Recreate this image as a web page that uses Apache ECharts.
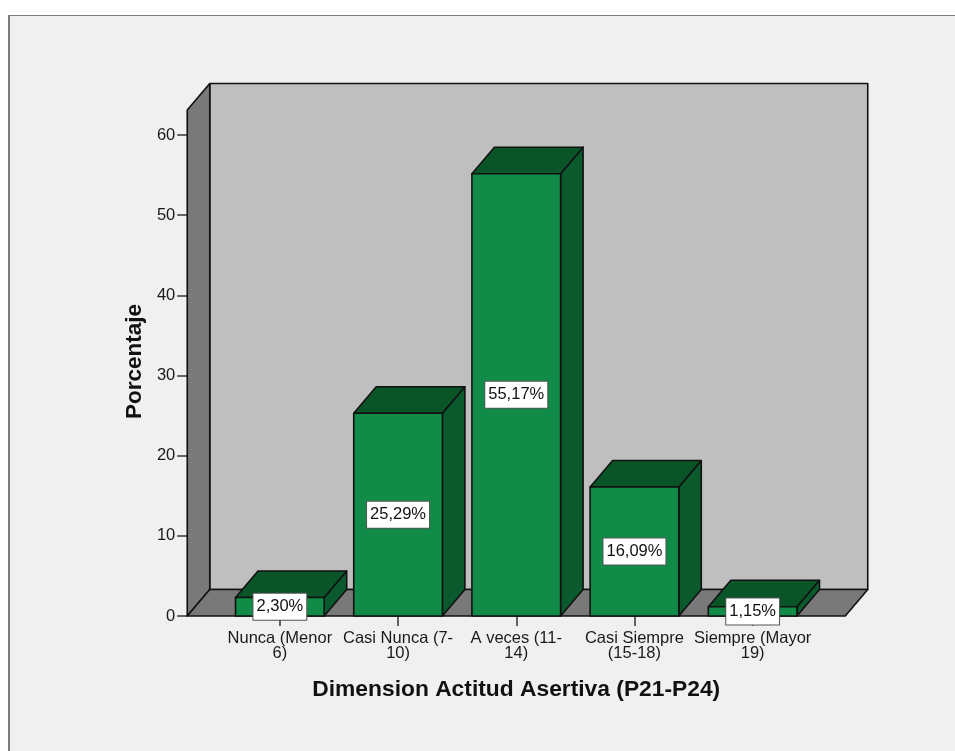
<!DOCTYPE html>
<html style="height: 100%" lang="es">
<head>
    <title>Dimension Actitud Asertiva</title>
    <meta charset="utf-8">
    <script src="https://cdn.jsdelivr.net/npm/echarts@6/dist/echarts.min.js"></script>
</head>
<body style="height: 100%; margin: 0; background: #fff; overflow: hidden">
    <div style="position: absolute; left: 8px; top: 15px; right: 0; bottom: 0; background: #f0f0f0; border-left: 2px solid #7d7d7d; border-top: 1.5px solid #7d7d7d"></div>
    <div id="container" style="position: absolute; left: 0; top: 0; width: 955px; height: 751px"></div>
    <script type="text/javascript">
    var categories = ['Nunca (Menor\n6)', 'Casi Nunca (7-\n10)', 'A veces (11-\n14)', 'Casi Siempre\n(15-18)', 'Siempre (Mayor\n19)'];
    var percentages = [2.30, 25.29, 55.17, 16.09, 1.15];

    var FONT = '"Liberation Sans", Arial, sans-serif';
    var TEXT_COLOR = '#1a1a1a';
    var LINE = '#111';
    var DX = 22.5, DY = 26.5;      // depth of the 3d box
    var SIDE_MARGIN = 33.5;        // floor sticks out of the category bands
    var TOP_MARGIN = 25;           // front wall goes above the 60 tick

    function poly(points, fill) {
        return {
            type: 'polygon',
            shape: { points: points },
            style: { fill: fill, stroke: LINE, lineWidth: 1.6, lineJoin: 'round' }
        };
    }

    function renderWalls(params) {
        var c = params.coordSys;
        var l = c.x - SIDE_MARGIN, r = c.x + c.width + SIDE_MARGIN;
        var t = c.y - TOP_MARGIN, b = c.y + c.height;
        return {
            type: 'group',
            children: [
                poly([[l + DX, t - DY], [r + DX, t - DY], [r + DX, b - DY], [l + DX, b - DY]], '#bfbfbf'),
                poly([[l, t], [l + DX, t - DY], [l + DX, b - DY], [l, b]], '#797979'),
                poly([[l, b], [l + DX, b - DY], [r + DX, b - DY], [r, b]], '#797979')
            ]
        };
    }

    function renderBar(params, api) {
        var top = api.coord([api.value(0), api.value(1)]);
        var base = api.coord([api.value(0), 0]);
        var w = api.size([1, 0])[0] * 0.75;
        var x0 = top[0] - w / 2, x1 = top[0] + w / 2;
        var y0 = top[1], y1 = base[1];
        return {
            type: 'group',
            children: [
                poly([[x1, y0], [x1 + DX, y0 - DY], [x1 + DX, y1 - DY], [x1, y1]], '#0a5a2e'),
                poly([[x0, y0], [x0 + DX, y0 - DY], [x1 + DX, y0 - DY], [x1, y0]], '#0a5528'),
                poly([[x0, y0], [x1, y0], [x1, y1], [x0, y1]], '#108c48')
            ]
        };
    }

    function renderLabel(params, api) {
        var mid = api.coord([api.value(0), api.value(1) / 2]);
        return {
            type: 'text',
            style: {
                x: mid[0],
                y: mid[1],
                text: api.value(1).toFixed(2).replace('.', ',') + '%',
                align: 'center',
                verticalAlign: 'middle',
                font: '16.5px ' + FONT,
                fill: '#111',
                backgroundColor: '#fff',
                borderColor: '#555',
                borderWidth: 1,
                padding: [5, 3, 4, 3]
            }
        };
    }

    var barData = percentages.map(function (v, i) { return [i, v]; });

    var myChart = echarts.init(document.getElementById('container'));
    var option = {
        backgroundColor: 'transparent',
        animation: false,
        grid: { left: 220.75, top: 135, width: 591, height: 481 },
        xAxis: {
            type: 'category',
            data: categories,
            name: 'Dimension Actitud Asertiva (P21-P24)',
            nameLocation: 'middle',
            nameGap: 62,
            nameTextStyle: { fontFamily: FONT, fontWeight: 'bold', fontSize: 22.8, color: '#111' },
            axisLine: { show: false },
            axisTick: { show: true, alignWithLabel: true, length: 10, lineStyle: { color: '#333', width: 1.5 } },
            axisLabel: { interval: 0, margin: 15, fontFamily: FONT, fontSize: 16.5, lineHeight: 15, color: TEXT_COLOR },
            z: 1
        },
        yAxis: {
            type: 'value',
            min: 0,
            max: 60,
            interval: 10,
            offset: 33.5,
            name: 'Porcentaje',
            nameLocation: 'middle',
            nameGap: 31,
            nameTextStyle: { fontFamily: FONT, fontWeight: 'bold', fontSize: 22.5, color: '#111', padding: [0, 0, 0, 28] },
            axisLine: { show: false },
            axisTick: { show: true, length: 10, lineStyle: { color: '#333', width: 1.5 } },
            axisLabel: { margin: 12, fontFamily: FONT, fontSize: 16.5, color: TEXT_COLOR },
            splitLine: { show: false }
        },
        series: [
            { type: 'custom', renderItem: renderWalls, data: [0], silent: true, z: 2 },
            { type: 'custom', renderItem: renderBar, data: barData, encode: { x: 0, y: 1 }, z: 3 },
            { type: 'custom', renderItem: renderLabel, data: barData, encode: { x: 0, y: 1 }, z: 4 }
        ]
    };
    myChart.setOption(option);
    </script>
</body>
</html>
